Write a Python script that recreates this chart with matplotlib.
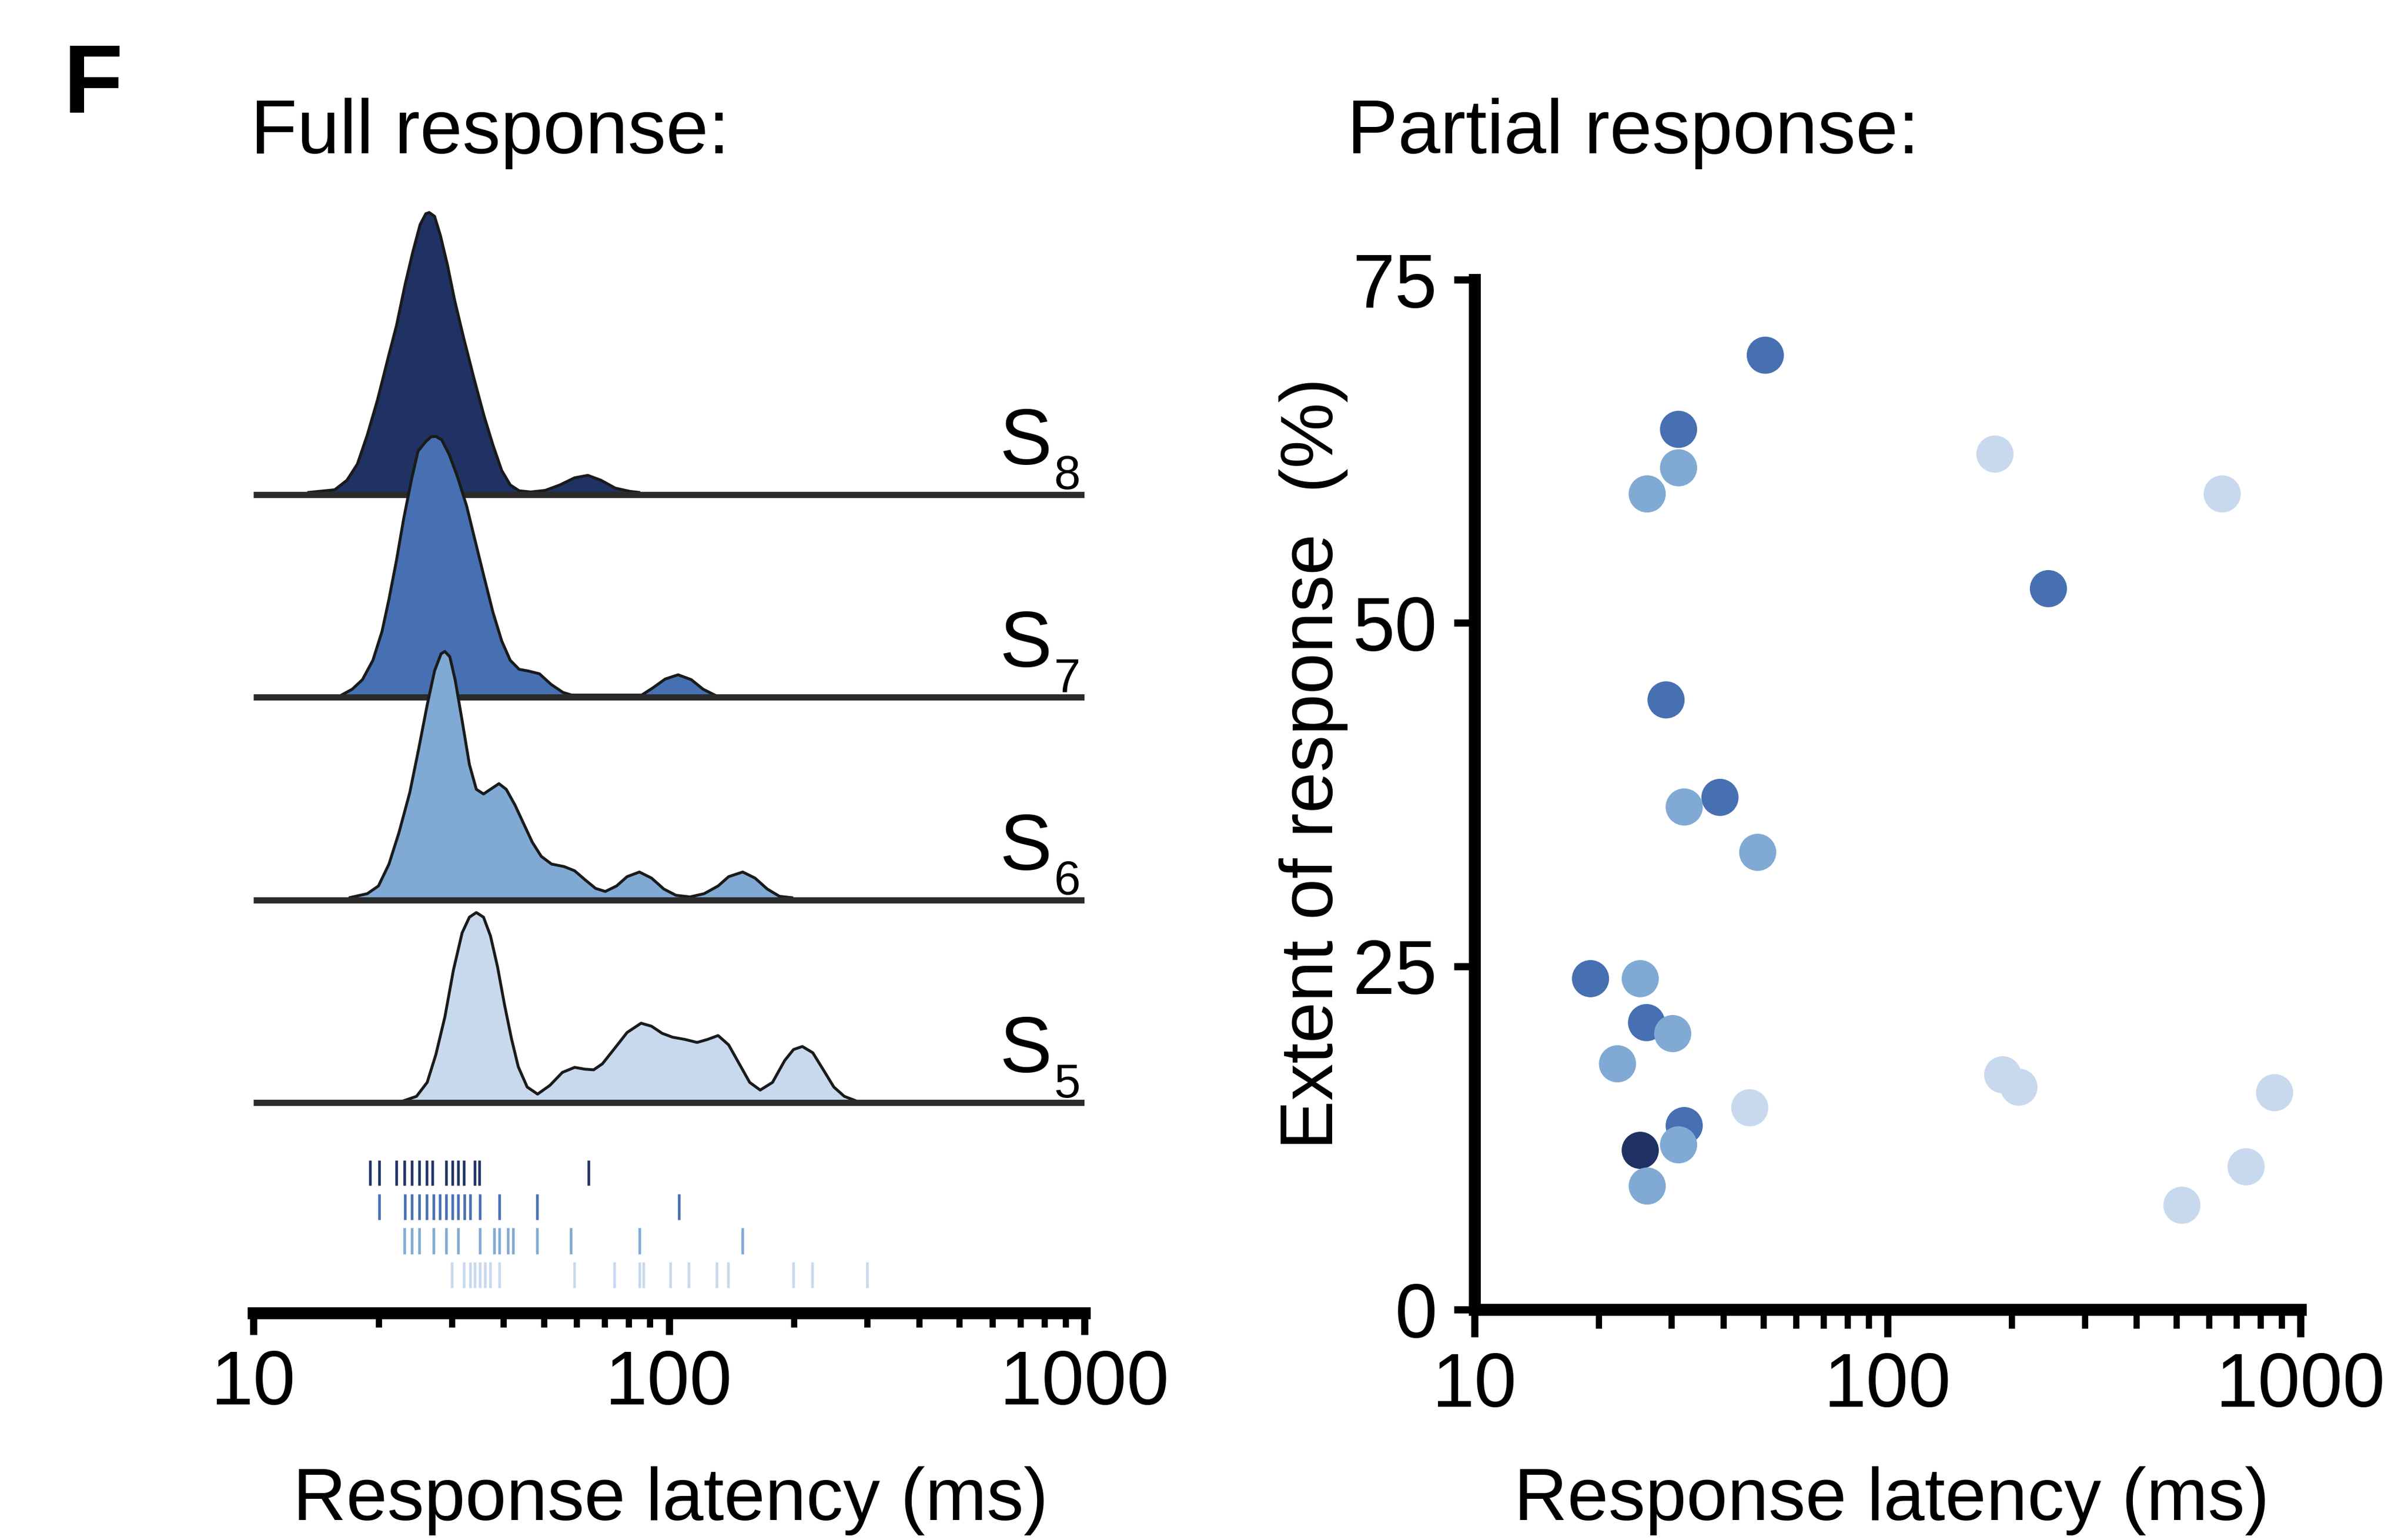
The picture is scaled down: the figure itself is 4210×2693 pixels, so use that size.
import matplotlib
matplotlib.use("Agg")
import matplotlib.pyplot as plt
import matplotlib.transforms as mtransforms
from matplotlib.ticker import LogLocator, NullFormatter
import numpy as np

plt.rcParams["font.family"] = ["Liberation Sans", "DejaVu Sans"]

# stimulus levels, top ridge first
LEVELS = ["8", "7", "6", "5"]
COLORS = ["#1f3263", "#4670b1", "#80aad3", "#c8d9ee"]

# full response: density ridges (latency in ms, height in ridge spacings)
S8_LAT = [13.6, 15.7, 16.8, 17.8, 18.8, 19.9, 21.1, 22.1, 23.2, 24.2, 25.2, 26.0,
          26.5, 27.3, 28.2, 29.3, 30.5, 32.1, 33.9, 35.9, 37.7, 39.6, 41.5, 43.6,
          46.5, 50.4, 54.7, 59.3, 63.8, 68.6, 74.3, 80.6, 84.6]
S8_DEN = [0.011, 0.024, 0.071, 0.151, 0.294, 0.468, 0.675, 0.833, 1.040, 1.198,
          1.333, 1.386, 1.392, 1.373, 1.278, 1.135, 0.960, 0.770, 0.579, 0.389,
          0.246, 0.119, 0.048, 0.019, 0.013, 0.021, 0.048, 0.083, 0.095, 0.071,
          0.032, 0.016, 0.011]

S7_LAT = [16.3, 17.3, 18.3, 19.4, 20.4, 21.2, 22.1, 23.0, 24.0, 24.9, 26.0, 26.8,
          27.5, 28.4, 29.6, 31.0, 32.6, 34.2, 35.9, 37.7, 39.6, 41.5, 43.6, 45.8,
          48.8, 52.1, 55.6, 58.3, 86.0, 91.7, 97.9, 105.2, 113.2, 120.8, 128.9]
S7_DEN = [0.011, 0.040, 0.087, 0.183, 0.325, 0.484, 0.675, 0.881, 1.071, 1.214,
          1.262, 1.286, 1.287, 1.270, 1.198, 1.087, 0.944, 0.770, 0.595, 0.421,
          0.278, 0.183, 0.138, 0.130, 0.116, 0.063, 0.024, 0.011, 0.011, 0.048,
          0.090, 0.111, 0.087, 0.040, 0.011]

S6_LAT = [17.1, 18.8, 20.0, 21.2, 22.4, 23.8, 25.0, 26.2, 27.3, 28.3, 28.9, 29.7,
          30.6, 31.8, 33.1, 34.4, 35.8, 37.2, 39.0, 40.6, 42.6, 44.7, 46.9, 49.3,
          52.2, 55.9, 59.3, 62.8, 66.6, 70.3, 74.8, 79.3, 84.9, 90.8, 97.2, 104.0,
          112.4, 121.5, 131.3, 139.2, 150.5, 161.1, 172.4, 184.5, 197.5]
S6_DEN = [0.012, 0.031, 0.069, 0.177, 0.331, 0.531, 0.746, 0.962, 1.131, 1.215,
          1.226, 1.200, 1.085, 0.885, 0.669, 0.546, 0.523, 0.546, 0.574, 0.546,
          0.469, 0.377, 0.285, 0.215, 0.177, 0.165, 0.144, 0.100, 0.057, 0.042,
          0.069, 0.115, 0.138, 0.108, 0.054, 0.023, 0.015, 0.031, 0.069, 0.115,
          0.138, 0.108, 0.054, 0.018, 0.011]

S5_LAT = [22.9, 24.7, 26.2, 27.5, 28.9, 30.3, 31.8, 33.1, 34.4, 35.8, 37.2, 38.7,
          40.2, 41.8, 43.4, 45.6, 48.3, 51.7, 55.4, 59.3, 62.8, 65.9, 69.2, 74.1,
          79.3, 85.7, 90.8, 96.3, 102.0, 109.2, 116.9, 123.9, 131.3, 139.2, 147.6,
          156.4, 165.8, 177.5, 189.9, 199.4, 209.4, 221.9, 235.2, 249.3, 264.2, 280.1]
S5_DEN = [0.008, 0.031, 0.100, 0.238, 0.423, 0.654, 0.838, 0.915, 0.938, 0.915,
          0.823, 0.669, 0.485, 0.315, 0.177, 0.077, 0.042, 0.085, 0.149, 0.174,
          0.165, 0.162, 0.192, 0.269, 0.346, 0.392, 0.377, 0.342, 0.323, 0.312,
          0.297, 0.312, 0.331, 0.285, 0.192, 0.100, 0.062, 0.100, 0.208, 0.262,
          0.277, 0.246, 0.162, 0.077, 0.031, 0.011]

# single trials shown as rug ticks under the ridges
S8_RUG = [19.1, 20.1, 22.1, 23.1, 24.1, 25.1, 26.1, 27.0, 29.1, 30.1, 31.1, 32.1,
          34.1, 35.0, 64.0]
S7_RUG = [20.1, 23.2, 24.1, 25.1, 26.1, 27.1, 28.1, 29.1, 30.1, 31.1, 32.2, 33.2,
          35.1, 39.1, 48.1, 105.6]
S6_RUG = [23.1, 24.1, 25.1, 27.1, 29.1, 31.1, 35.1, 38.0, 39.1, 41.0, 42.1, 48.1,
          58.1, 85.0, 150.2]
S5_RUG = [30.0, 32.1, 33.2, 34.1, 35.1, 36.1, 37.1, 39.1, 59.1, 73.9, 85.0, 86.8,
          100.9, 111.6, 130.1, 138.8, 198.9, 220.9, 299.4]

# partial response: latency (ms), extent (%), stimulus level
PARTIAL_LAT = [50.6, 31.2, 245.2, 29.1, 39.3, 19.1, 26.1, 32.2,
               31.2, 26.2, 32.2, 48.5, 25.2, 30.2, 22.2, 31.2, 26.2,
               182.0, 646.0, 46.4, 190.0, 208.0, 865.0, 738.0, 516.0,
               25.2]
PARTIAL_EXT = [69.5, 64.1, 52.5, 44.4, 37.3, 24.1, 20.9, 13.4,
               61.3, 59.4, 36.6, 33.3, 24.1, 20.1, 17.9, 12.0, 9.0,
               62.3, 59.4, 14.7, 17.1, 16.2, 15.8, 10.4, 7.6,
               11.6]
PARTIAL_LEVEL = ["7"] * 8 + ["6"] * 9 + ["5"] * 8 + ["8"]

RIDGES = [(S8_LAT, S8_DEN, S8_RUG), (S7_LAT, S7_DEN, S7_RUG),
          (S6_LAT, S6_DEN, S6_RUG), (S5_LAT, S5_DEN, S5_RUG)]
BASE = [4.038, 3.038, 2.038, 1.038]
RUG_ROWS = [(0.629, 0.753), (0.460, 0.587), (0.290, 0.420), (0.124, 0.250)]

LABEL_FS = 31
TICK_FS = 32


def style_log_x(ax, major_len, minor_len):
    ax.set_xscale("log")
    ax.set_xlim(10, 1000)
    ax.set_xticks([10, 100, 1000], labels=["10", "100", "1000"])
    ax.xaxis.set_minor_locator(LogLocator(base=10, subs=np.arange(2, 10)))
    ax.xaxis.set_minor_formatter(NullFormatter())
    ax.tick_params(axis="x", which="major", direction="out", length=major_len,
                   width=3, labelsize=TICK_FS, pad=6)
    ax.tick_params(axis="x", which="minor", direction="out", length=minor_len,
                   width=2.6)


fig = plt.figure(figsize=(4210 / 300, 2693 / 300), dpi=300)

# ------------------------------------------------------------ full response
ax = fig.add_axes([0.1052, 0.1474, 0.3452, 0.7304])
for i, ((lat, den, rug), base) in enumerate(zip(RIDGES, BASE)):
    lat = np.asarray(lat)
    top = base + np.asarray(den)
    z = 2 + 3 * i
    ax.fill_between(lat, base, top, color=COLORS[i], lw=0, zorder=z)
    ax.plot(lat, top, color="#1a1a1a", lw=1.2, zorder=z + 1,
            solid_joinstyle="round")
    ax.plot([10, 1000], [base, base], color="#2b2b2b", lw=2.6,
            solid_capstyle="butt", zorder=z + 2)
    lo, hi = RUG_ROWS[i]
    ax.vlines(rug, lo, hi, color=COLORS[i], lw=1.1, zorder=z)

style_log_x(ax, 9, 6)
ax.set_ylim(0, 5.55)
ax.set_yticks([])
for side in ("left", "top", "right"):
    ax.spines[side].set_visible(False)
ax.spines["bottom"].set_linewidth(5)

lab = mtransforms.blended_transform_factory(ax.transAxes, ax.transData)
for lev, base in zip(LEVELS, BASE):
    ax.text(0.961, base + 0.15, "S", transform=lab, ha="right", va="baseline",
            fontsize=33)
    ax.text(0.963, base + 0.027, lev, transform=lab, ha="left", va="baseline",
            fontsize=20)

# --------------------------------------------------------- partial response
bx = fig.add_axes([0.6123, 0.1496, 0.3431, 0.6688])
for lev, col in zip(LEVELS, COLORS):
    sel = [k for k, l in enumerate(PARTIAL_LEVEL) if l == lev]
    bx.scatter([PARTIAL_LAT[k] for k in sel], [PARTIAL_EXT[k] for k in sel],
               s=243, color=col, edgecolors="none", zorder=3, clip_on=False)

style_log_x(bx, 11.5, 8)
bx.set_ylim(0, 75)
bx.set_yticks([0, 25, 50, 75])
bx.tick_params(axis="y", direction="out", length=8.6, width=3,
               labelsize=TICK_FS, pad=7)
for side in ("top", "right"):
    bx.spines[side].set_visible(False)
for side in ("left", "bottom"):
    bx.spines[side].set_linewidth(5)
    bx.spines[side].set_capstyle("projecting")
bx.text(-0.195, 0.53, "Extent of response  (%)", transform=bx.transAxes,
        rotation=90, ha="center", va="center", fontsize=LABEL_FS)

# ------------------------------------------------------------------- texts
fig.text(0.0262, 0.927, "F", fontsize=41, fontweight="bold", va="baseline")
fig.text(0.104, 0.9003, "Full response:", fontsize=32, va="baseline")
fig.text(0.5594, 0.9003, "Partial response:", fontsize=32, va="baseline")
fig.text(0.2784, 0.013, "Response latency (ms)", fontsize=LABEL_FS,
         ha="center", va="baseline")
fig.text(0.7857, 0.013, "Response latency (ms)", fontsize=LABEL_FS,
         ha="center", va="baseline")

fig.savefig("out.png", dpi=300, facecolor="white")
